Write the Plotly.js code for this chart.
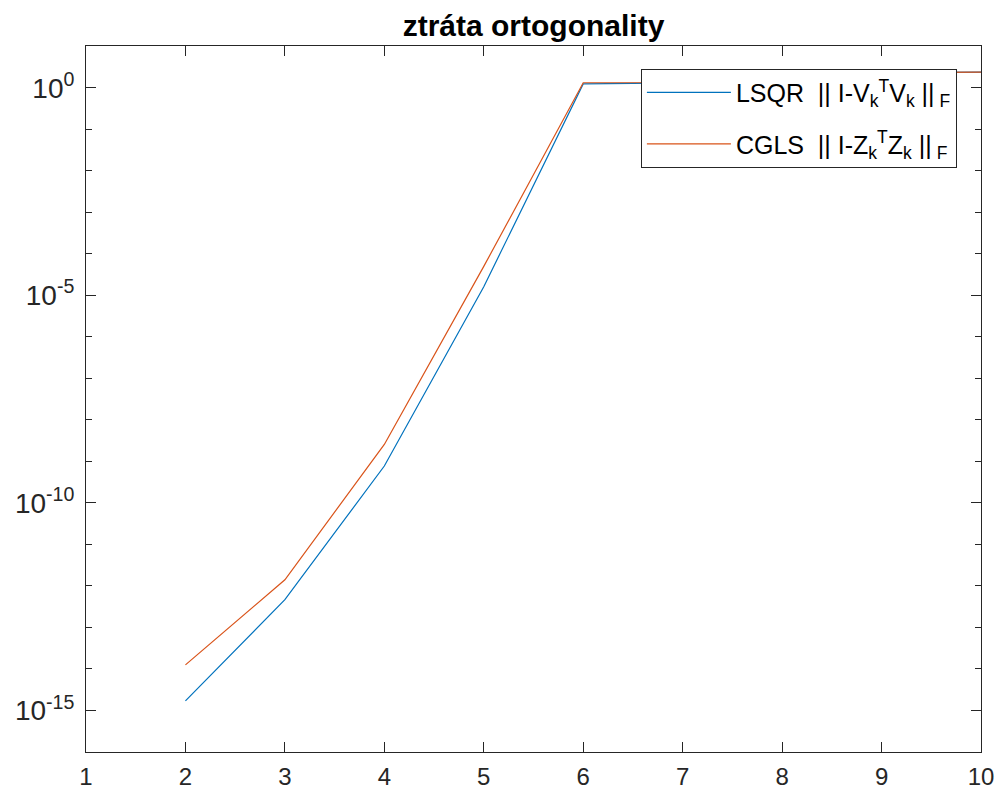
<!DOCTYPE html>
<html>
<head>
<meta charset="utf-8">
<script src="https://cdn.plot.ly/plotly-3.0.1.min.js"></script>
<style>html,body{margin:0;padding:0;background:#fff;}</style>
</head>
<body>
<div id="chart" style="width:1001px;height:796px;"></div>
<script>
// iteration index k
const iterations = [2, 3, 4, 5, 6, 7, 8, 9, 10];
// log10 of the loss of orthogonality
const lsqrLog10 = [-14.77, -12.33, -9.11, -4.79, 0.097, 0.12, 0.27, 0.37, 0.38];
const cglsLog10 = [-13.90, -11.85, -8.59, -4.30, 0.125, 0.13, 0.28, 0.37, 0.38];
const yTickExponents = [-15, -10, -5, 0];
const xTicks = [1, 2, 3, 4, 5, 6, 7, 8, 9, 10];

const lsqrVals = lsqrLog10.map(v => Math.pow(10, v));
const cglsVals = cglsLog10.map(v => Math.pow(10, v));
const yTickVals = yTickExponents.map(e => Math.pow(10, e));
const yTickText = yTickExponents.map(e => '10<sup>' + e + '</sup>');

const axisColor = '#262626';
const fontFam = '"Liberation Sans", Arial, Helvetica, sans-serif';

const traces = [
  {x: iterations, y: lsqrVals, type: 'scatter', mode: 'lines', legendgroup: 'g1',
   name: 'LSQR  || I-V<sub>k</sub><sup>T</sup>V<sub>k</sub> ||<sub> F</sub>',
   line: {color: '#0072BD', width: 1.2}},
  {x: iterations, y: cglsVals, type: 'scatter', mode: 'lines', legendgroup: 'g2',
   name: 'CGLS  || I-Z<sub>k</sub><sup>T</sup>Z<sub>k</sub> ||<sub> F</sub>',
   line: {color: '#D95319', width: 1.2}}
];

const layout = {
  width: 1001, height: 796,
  margin: {l: 86, r: 20, t: 46, b: 44},
  paper_bgcolor: '#fff', plot_bgcolor: '#fff',
  font: {family: fontFam, size: 24, color: axisColor},
  title: {text: '<b>ztráta ortogonality</b>', x: 0.533, xanchor: 'center', y: 0.968, yanchor: 'middle',
          font: {family: fontFam, size: 30, color: '#000'}},
  showlegend: true,
  legend: {x: 0.62, y: 0.968, xanchor: 'left', yanchor: 'top',
           bgcolor: '#fff', bordercolor: '#262626', borderwidth: 1,
           font: {family: fontFam, size: 25, color: '#000'}, itemwidth: 84, tracegroupgap: 16},
  xaxis: {
    range: [1, 10], tickvals: xTicks, ticktext: xTicks.map(String),
    showgrid: false, zeroline: false, showline: true, linecolor: axisColor, linewidth: 1,
    mirror: 'ticks', ticks: 'inside', ticklen: 10, tickcolor: axisColor, tickwidth: 1,
    tickfont: {family: fontFam, size: 24, color: axisColor}, ticklabelstandoff: 3
  },
  yaxis: {
    type: 'log', range: [-16, 1.01], tickvals: yTickVals, ticktext: yTickText,
    showgrid: false, zeroline: false, showline: true, linecolor: axisColor, linewidth: 1,
    mirror: 'ticks', ticks: 'inside', ticklen: 10, tickcolor: axisColor, tickwidth: 1,
    tickfont: {family: fontFam, size: 28, color: axisColor}, ticklabelstandoff: 5,
    minor: {ticks: 'inside', ticklen: 6, dtick: 1, tick0: 0, tickcolor: axisColor, showgrid: false}
  }
};

Plotly.newPlot('chart', traces, layout, {displayModeBar: false, staticPlot: true});
</script>
</body>
</html>
